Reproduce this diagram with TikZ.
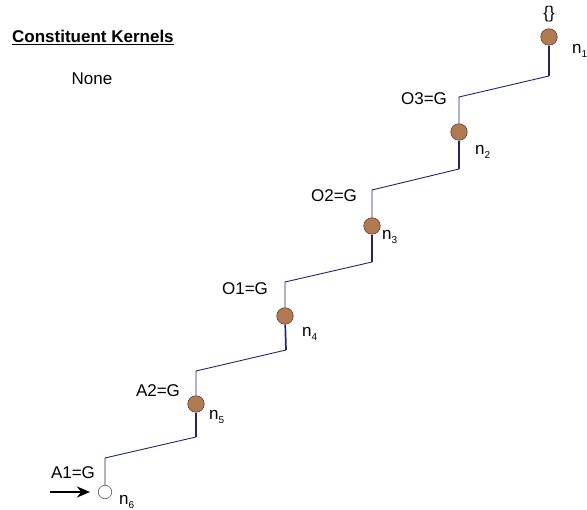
\documentclass[tikz,border=0pt]{standalone}
\usepackage{fontspec}
\setmainfont{Liberation Sans}
\usetikzlibrary{arrows.meta}
\definecolor{kernbrown}{HTML}{B07A52}
\definecolor{kernedge}{HTML}{5E4330}
\definecolor{wire}{HTML}{24246E}
\newcommand{\sub}[1]{\raisebox{-4pt}{\fontsize{10}{10}\selectfont #1}}
\begin{document}
\begin{tikzpicture}[x=1pt, y=-1pt,
    font=\fontsize{17}{20}\selectfont,
    state/.style={circle, draw=kernedge, fill=kernbrown, line width=0.6pt, minimum size=16.5pt, inner sep=0pt},
    start/.style={circle, draw=black!65, fill=white, line width=0.6pt, minimum size=13.5pt, inner sep=0pt},
    wire/.style={draw=wire, line width=0.9pt},
    stem/.style={draw=wire, line width=1.7pt},
    idx/.style={anchor=base west, inner sep=0pt},
    cond/.style={anchor=base, inner sep=0pt},
    >={Stealth[length=13pt, width=11pt]}
]
\useasboundingbox (0,0) rectangle (587,510);

\node[anchor=base west, inner sep=0pt] (title) at (12,43) {\textbf{\underline{Constituent Kernels}}};
\node[cond] (none) at (92,85) {None};

% states
\node[state] (n1) at (549,37) {};
\node[state] (n2) at (459,132) {};
\node[state] (n3) at (372,226) {};
\node[state] (n4) at (285,316) {};
\node[state] (n5) at (196,404) {};
\node[start] (n6) at (105,492) {};

\node[idx] at (572,54) {n\sub{1}};
\node[idx] at (475,155) {n\sub{2}};
\node[idx] at (382,240) {n\sub{3}};
\node[idx] at (302,337) {n\sub{4}};
\node[idx] at (209,420) {n\sub{5}};
\node[idx] at (119,505) {n\sub{6}};

% conditions
\node[cond] at (549,19) {\{\}};
\node[cond] at (424,105) {O3=G};
\node[cond] at (334,202) {O2=G};
\node[cond] at (245,295) {O1=G};
\node[cond] at (158,397) {A2=G};
\node[cond] at (73,479) {A1=G};

% corners of the steps
\coordinate (c6) at (105,458);
\coordinate (c5l) at (196,437);
\coordinate (c5u) at (196,371);
\coordinate (c4l) at (286,350);
\coordinate (c4u) at (285,282);
\coordinate (c3l) at (372,262);
\coordinate (c3u) at (372,190);
\coordinate (c2l) at (459,169);
\coordinate (c2u) at (459,97);
\coordinate (c1l) at (549,76);

\draw[wire] (n6) -- (c6) -- (c5l);
\draw[stem] (c5l) -- (n5);
\draw[wire] (n5) -- (c5u) -- (c4l);
\draw[stem] (c4l) -- (n4);
\draw[wire] (n4) -- (c4u) -- (c3l);
\draw[stem] (c3l) -- (n3);
\draw[wire] (n3) -- (c3u) -- (c2l);
\draw[stem] (c2l) -- (n2);
\draw[wire] (n2) -- (c2u) -- (c1l);
\draw[stem] (c1l) -- (n1);

% entry arrow
\coordinate (entry) at (50,492);
\draw[->, line width=2.8pt, shorten >=8pt] (entry) -- (n6);
\end{tikzpicture}
\end{document}
